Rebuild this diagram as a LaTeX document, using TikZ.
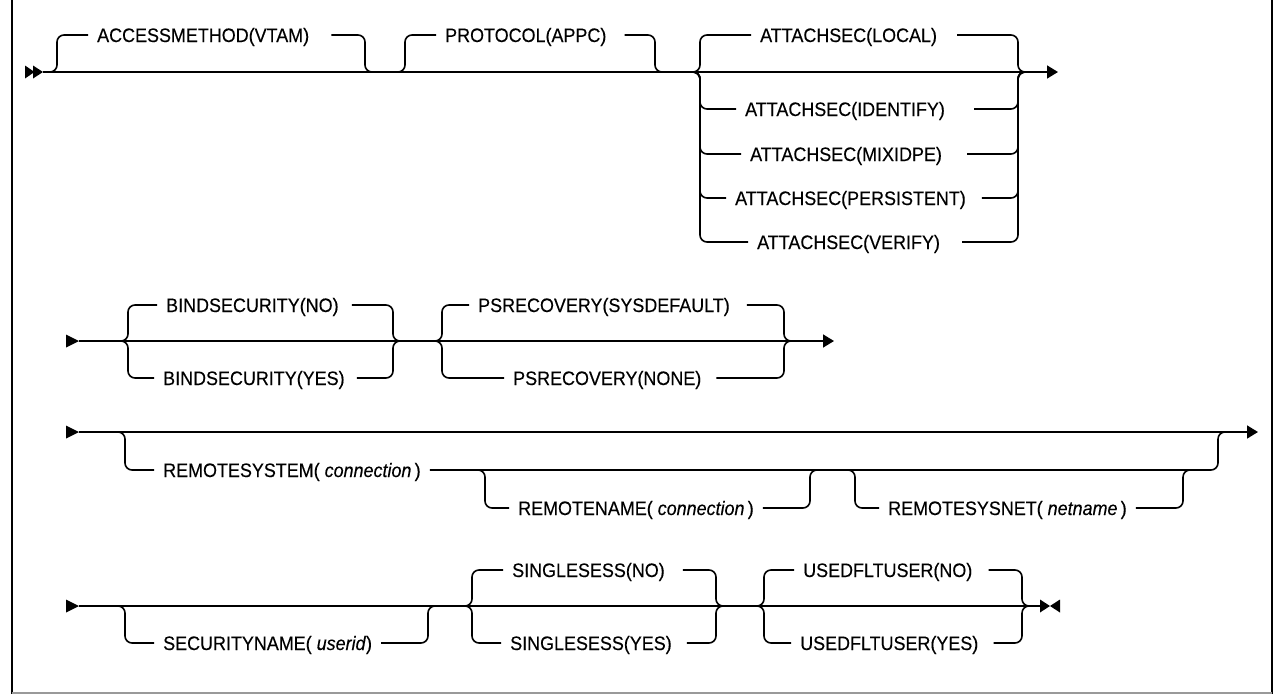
\documentclass[tikz,border=0pt]{standalone}
\usepackage{fontspec}
\setmainfont{Liberation Sans}[FakeStretch=0.92, FakeBold=0.25]
\usetikzlibrary{arrows.meta}
\newcommand\kwsize{\fontsize{19.5}{22}\selectfont}
\begin{document}
\begin{tikzpicture}[x=1pt,y=-1pt,
  railline/.style={line width=1.6pt},
  railbend/.style={railline, rounded corners=7pt},
  kw/.style={anchor=west, inner xsep=9pt, inner ysep=0pt,
             text height=14pt, text depth=0pt, font=\kwsize},
  railtip/.style={-{Triangle[length=11pt,width=13pt]}},
  startmark/.pic={\fill (0,-6.5) -- (13,0) -- (0,6.5) -- cycle;},
  doublestart/.pic={\fill (0,-6.5) -- (9.5,0) -- (0,6.5) -- cycle;
                    \fill (8,-6.5) -- (18,0) -- (8,6.5) -- cycle;},
  endmark/.pic={\fill (-10,-6.5) -- (0,0) -- (-10,6.5) -- cycle;
                \fill (10,-6.5) -- (0,0) -- (10,6.5) -- cycle;}
]
\useasboundingbox (0,0) rectangle (1274,694);

% frame
\draw[line width=2pt] (12,0) -- (12,694);
\draw[line width=1.4pt] (1272,0) -- (1272,694);
\draw[line width=1.6pt, black!40] (12,693) -- (1272,693);

% ---------------- row 1 ----------------
\coordinate (r1m) at (25,72);
\coordinate (r1s) at (43,72);
\coordinate (r1e) at (1058,72);
\coordinate (aL) at (57,72);   \coordinate (aR) at (365,72);
\coordinate (bL) at (405,72);  \coordinate (bR) at (655,72);
\coordinate (cL) at (700,72);  \coordinate (cR) at (1018,72);

\node[kw] (acc)     at (88,35)   {ACCESSMETHOD(VTAM)\hspace*{13pt}};
\node[kw] (prot)    at (436,35)  {PROTOCOL(APPC)\hspace*{9pt}};
\node[kw] (local)   at (751,35)  {ATTACHSEC(LOCAL)\hspace*{11pt}};
\node[kw] (ident)   at (736,109) {ATTACHSEC(IDENTIFY)\hspace*{20pt}};
\node[kw] (mixid)   at (741,154) {ATTACHSEC(MIXIDPE)\hspace*{16pt}};
\node[kw] (persist) at (726,198) {ATTACHSEC(PERSISTENT)\hspace*{7pt}};
\node[kw] (verify)  at (748,242) {ATTACHSEC(VERIFY)\hspace*{13pt}};

\pic at (r1m) {doublestart};
\draw[railline, railtip] (r1s) -- (r1e);
\draw[railbend] ([xshift=-8pt]aL) -- (aL) |- (acc.west);
\draw[railbend] (acc.east) -| (aR) -- ([xshift=8pt]aR);
\draw[railbend] ([xshift=-8pt]bL) -- (bL) |- (prot.west);
\draw[railbend] (prot.east) -| (bR) -- ([xshift=8pt]bR);
\foreach \n in {local,ident,mixid,persist,verify}{
  \draw[railbend] ([xshift=-8pt]cL) -- (cL) |- (\n.west);
  \draw[railbend] (\n.east) -| (cR) -- ([xshift=8pt]cR);
}

% ---------------- row 2 ----------------
\coordinate (r2m) at (66,341);
\coordinate (r2s) at (79,341);
\coordinate (r2e) at (834,341);
\coordinate (fL) at (128,341); \coordinate (fR) at (393,341);
\coordinate (gL) at (442,341); \coordinate (gR) at (784,341);

\node[kw] (bsno)   at (157,305) {BINDSECURITY(NO)\hspace*{4pt}};
\node[kw] (bsyes)  at (154,378) {BINDSECURITY(YES)\hspace*{3pt}};
\node[kw] (psdef)  at (469,305) {PSRECOVERY(SYSDEFAULT)\hspace*{8pt}};
\node[kw] (psnone) at (504,378) {PSRECOVERY(NONE)\hspace*{6pt}};

\pic at (r2m) {startmark};
\draw[railline, railtip] (r2s) -- (r2e);
\foreach \n in {bsno,bsyes}{
  \draw[railbend] ([xshift=-8pt]fL) -- (fL) |- (\n.west);
  \draw[railbend] (\n.east) -| (fR) -- ([xshift=8pt]fR);
}
\foreach \n in {psdef,psnone}{
  \draw[railbend] ([xshift=-8pt]gL) -- (gL) |- (\n.west);
  \draw[railbend] (\n.east) -| (gR) -- ([xshift=8pt]gR);
}

% ---------------- row 3 ----------------
\coordinate (r3m) at (66,432);
\coordinate (r3s) at (79,432);
\coordinate (r3e) at (1258,432);
\coordinate (hL) at (125,432);  \coordinate (hR) at (1218,432);
\coordinate (iL) at (485,470);  \coordinate (iR) at (810,470);
\coordinate (jL) at (855,470);  \coordinate (jR) at (1183,470);

\node[kw] (rsys)  at (154,470) {REMOTESYSTEM( \textit{connection}\,)};
\node[kw] (rname) at (509,508) {REMOTENAME( \textit{connection}\,)};
\node[kw] (rnet)  at (879,508) {REMOTESYSNET( \textit{netname}\,)};

\pic at (r3m) {startmark};
\draw[railline, railtip] (r3s) -- (r3e);
\draw[railbend] ([xshift=-8pt]hL) -- (hL) |- (rsys.west);
\draw[railbend] (rsys.east) -| (hR) -- ([xshift=8pt]hR);
\draw[railbend] ([xshift=-8pt]iL) -- (iL) |- (rname.west);
\draw[railbend] (rname.east) -| (iR) -- ([xshift=8pt]iR);
\draw[railbend] ([xshift=-8pt]jL) -- (jL) |- (rnet.west);
\draw[railbend] (rnet.east) -| (jR) -- ([xshift=8pt]jR);

% ---------------- row 4 ----------------
\coordinate (r4m) at (66,606);
\coordinate (r4s) at (79,606);
\coordinate (r4e) at (1040,606);
\coordinate (r4x) at (1050,606);
\coordinate (kL) at (125,606);  \coordinate (kR) at (428,606);
\coordinate (lL) at (472,606);  \coordinate (lR) at (716,606);
\coordinate (mL) at (764,606);  \coordinate (mR) at (1022,606);

\node[kw] (secn)   at (154,643) {SECURITYNAME( \textit{userid})};
\node[kw] (ssno)   at (503,570) {SINGLESESS(NO)\hspace*{9pt}};
\node[kw] (ssyes)  at (501,643) {SINGLESESS(YES)\hspace*{6pt}};
\node[kw] (uduno)  at (794,570) {USEDFLTUSER(NO)\hspace*{7pt}};
\node[kw] (uduyes) at (791,643) {USEDFLTUSER(YES)\hspace*{6pt}};

\pic at (r4m) {startmark};
\draw[railline] (r4s) -- (r4e);
\pic at (r4x) {endmark};
\draw[railbend] ([xshift=-8pt]kL) -- (kL) |- (secn.west);
\draw[railbend] (secn.east) -| (kR) -- ([xshift=8pt]kR);
\foreach \n in {ssno,ssyes}{
  \draw[railbend] ([xshift=-8pt]lL) -- (lL) |- (\n.west);
  \draw[railbend] (\n.east) -| (lR) -- ([xshift=8pt]lR);
}
\foreach \n in {uduno,uduyes}{
  \draw[railbend] ([xshift=-8pt]mL) -- (mL) |- (\n.west);
  \draw[railbend] (\n.east) -| (mR) -- ([xshift=8pt]mR);
}
\end{tikzpicture}
\end{document}
